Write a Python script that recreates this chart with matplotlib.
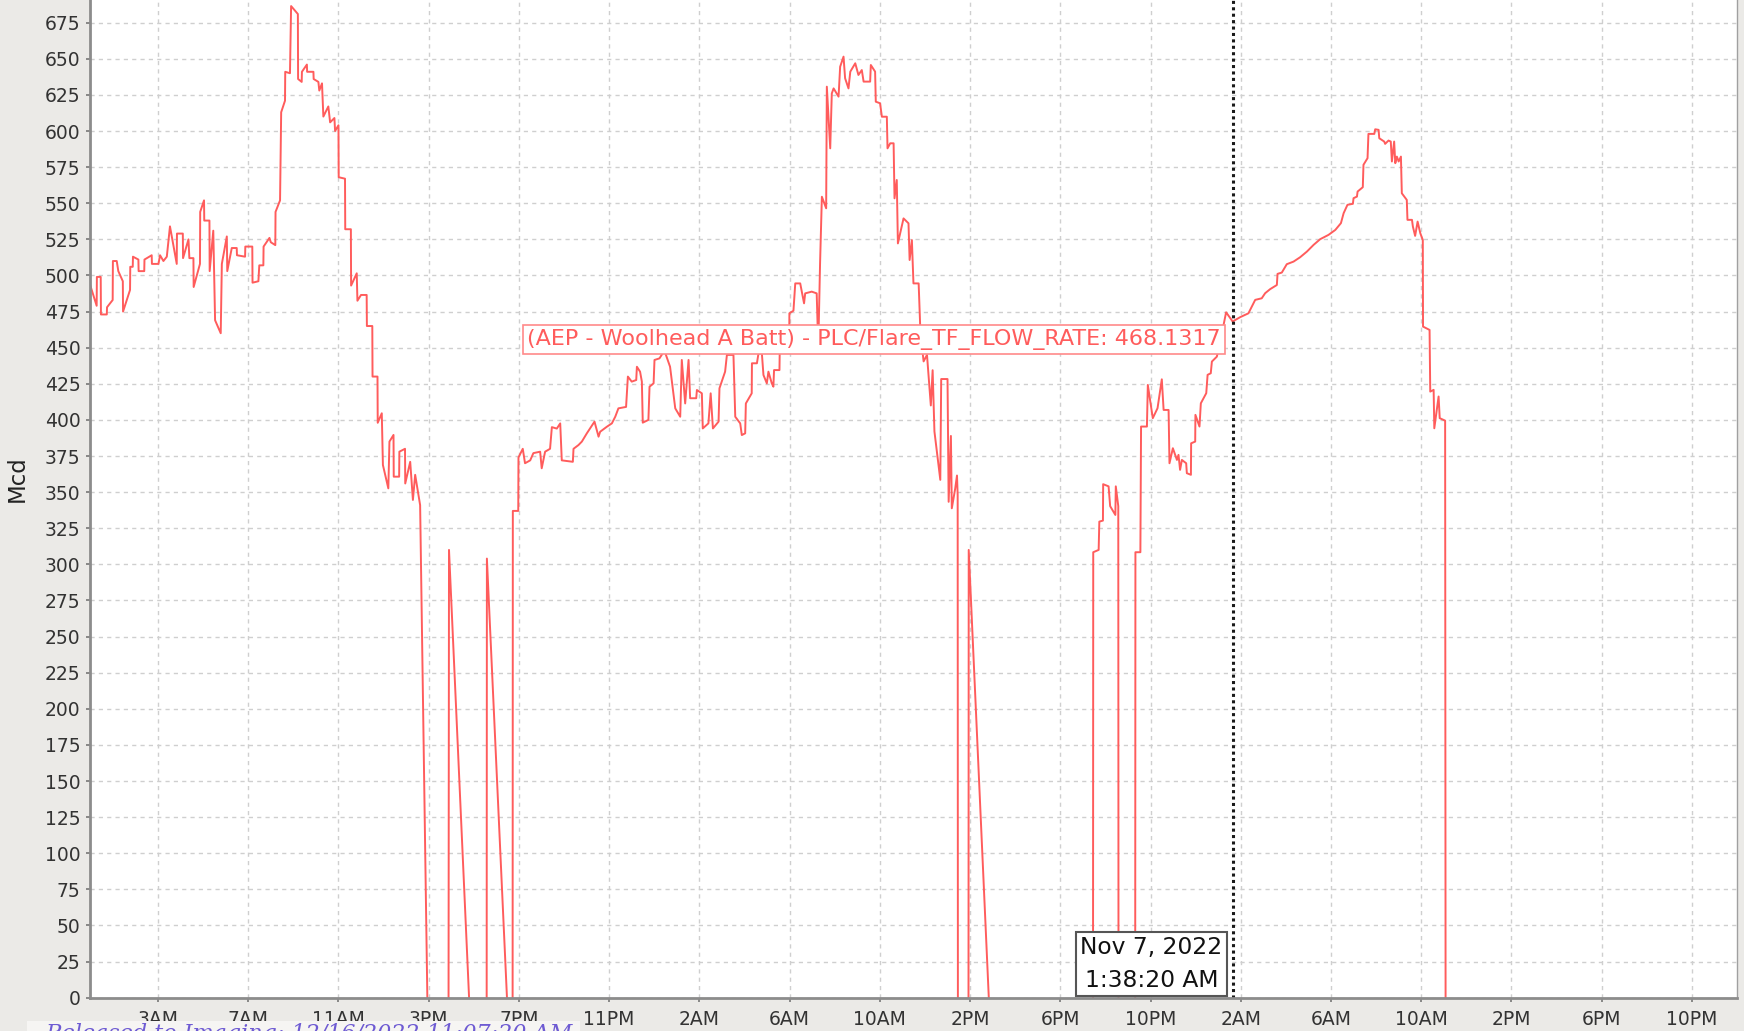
import matplotlib
matplotlib.use("Agg")
import matplotlib.pyplot as plt
from matplotlib.patches import Rectangle

NA = float("nan")  # gap: the flow sat at zero under the axis line

# elapsed hours since Nov 5, 2022 00:00 (DST ends Nov 6 -> 73 h span)
hours = [
    0.00, 0.28, 0.29, 0.46, 0.47, 0.73, 0.74, 0.99, 1.00, 1.17, 1.24, 1.44, 1.45, 1.76, 1.77, 1.88,
    1.89, 2.13, 2.14, 2.39, 2.40, 2.72, 2.73, 3.02, 3.09, 3.24, 3.39, 3.53, 3.83, 3.84, 4.10, 4.11,
    4.35, 4.39, 4.57, 4.58, 4.86, 4.87, 5.04, 5.05, 5.28, 5.29, 5.45, 5.53, 5.78, 5.83, 6.05, 6.07,
    6.27, 6.49, 6.50, 6.86, 6.87, 7.18, 7.19, 7.45, 7.49, 7.67, 7.68, 7.94, 8.00, 8.20, 8.21, 8.41,
    8.46, 8.63, 8.64, 8.85, 8.90, 9.20, 9.21, 9.37, 9.38, 9.60, 9.61, 9.89, 9.90, 10.11, 10.15, 10.27,
    10.33, 10.55, 10.63, 10.82, 10.85, 11.00, 11.01, 11.29, 11.30, 11.55, 11.56, 11.81, 11.84, 12.00,
    12.25, 12.26, 12.50, 12.51, 12.73, 12.74, 12.92, 12.97, 13.21, 13.26, 13.44, 13.45, 13.69, 13.70,
    13.95, 13.96, 14.18, 14.30, 14.40, 14.62, 14.94, 15.40, 15.88, 15.90, 16.79, 17.20, 17.57, 17.58,
    18.47, 18.60, 18.72,
    18.73, 18.97, 18.98, 19.17, 19.27, 19.50, 19.64, 19.94, 20.01, 20.16, 20.38, 20.46, 20.68, 20.83,
    20.90, 21.39, 21.42, 21.64, 21.79, 22.01, 22.35, 22.53, 22.60, 22.90, 23.12, 23.27, 23.41, 23.75,
    23.83, 24.00, 24.20, 24.23, 24.37, 24.45, 24.49, 24.74, 24.79, 24.97, 25.01, 25.23, 25.45, 25.70,
    25.93, 26.15, 26.22, 26.37, 26.52, 26.59, 26.86, 26.89, 27.11, 27.15, 27.40, 27.50, 27.60, 27.85,
    27.89, 28.14, 28.22, 28.51, 28.59, 28.81, 28.88, 29.03, 29.06, 29.32, 29.33, 29.55, 29.62, 29.77,
    29.84, 29.99, 30.06, 30.21, 30.28, 30.31, 30.55, 30.56, 30.98, 30.99, 31.17, 31.25, 31.47, 31.64,
    31.69, 31.98, 32.20, 32.27, 32.35, 32.43, 32.62, 32.65, 32.80, 32.87, 32.95, 33.17, 33.24, 33.39,
    33.46, 33.61, 33.69, 33.91, 34.05, 34.20, 34.28, 34.57, 34.60, 34.79, 34.82, 35.01, 35.09, 35.31,
    35.34, 35.46, 35.61, 35.65, 35.75, 35.80, 36.05, 36.27, 36.32, 36.42, 36.49, 36.72, 36.80, 36.94,
    37.09, 37.26, 37.34, 37.42, 37.68, 37.72, 38.00, 38.05, 38.15, 38.19, 38.34, 38.42, 38.45, 38.46,
    38.70, 38.93, 38.94, 39.83, 42.00, 44.45, 44.46, 44.70, 44.73, 44.89, 44.90, 45.14, 45.21, 45.44,
    45.46, 45.57, 45.58, 46.00, 46.32, 46.33, 46.55, 46.58, 46.84, 46.88, 47.10, 47.31, 47.50, 47.58,
    47.80, 47.84, 47.99,
    48.17, 48.24, 48.31, 48.39, 48.58, 48.61, 48.79, 48.80, 48.98, 48.99, 49.17, 49.23, 49.47, 49.53,
    49.67, 49.72, 49.94, 50.10, 50.35, 50.64, 50.97, 51.34, 51.64, 51.93, 52.08, 52.30, 52.60, 52.63,
    52.82, 53.04, 53.34, 53.63, 53.93, 54.23, 54.52, 54.89, 55.19, 55.44, 55.56, 55.73, 55.97, 56.00,
    56.15, 56.18, 56.41, 56.44, 56.62, 56.66, 56.92, 56.96, 57.11, 57.14, 57.36, 57.40, 57.55, 57.65,
    57.70, 57.80, 57.85, 57.92, 58.00, 58.10, 58.14, 58.36, 58.39, 58.59, 58.63, 58.73, 58.84, 58.96,
    59.07, 59.08, 59.37, 59.40, 59.55, 59.58, 59.77, 59.82, 59.92, 60.06, 60.08,
]
mcd = [
    493, 479, 499, 499, 473, 473, 478, 483, 510, 510, 503, 496, 475, 490, 506, 506,
    513, 511, 503, 503, 511, 514, 508, 508, 514, 510, 513, 534, 508, 529, 529, 512,
    525, 512, 512, 492, 508, 544, 552, 538, 538, 503, 531, 469, 460, 508, 527, 503,
    519, 519, 514, 513, 520, 520, 495, 496, 507, 507, 520, 526, 523, 521, 544, 552,
    613, 621, 641, 640, 686.5, 681, 636, 634, 641, 646, 641, 641, 636, 634, 628, 633,
    610, 617, 606, 609, 600, 604, 568, 567, 532, 532, 493, 501.5, 482.5, 486.5,
    486.5, 465, 465, 430, 430, 398, 404.6, 368.8, 352.6, 385, 389.6, 360.7, 360.7, 378,
    380, 356, 371, 344.6, 362, 341, 0, NA, 0, 310, 0, NA, 0, 304,
    0, NA, 0,
    337, 337, 374, 380, 370, 372, 377, 378, 366.5, 378, 380, 395, 394, 397.6,
    372, 371, 380, 382.6, 385, 390.7, 398.8, 388.4, 391.8, 395.3, 397.6, 402.2, 408, 409,
    430, 426.5, 427.6, 436.8, 433.4, 426.5, 398.1, 400, 423, 425.3, 441.5, 442.6, 448, 436.8,
    408, 402.2, 441.5, 411.4, 441.5, 415, 415, 420.7, 418.4, 394.1, 397.6, 418.4, 394.1, 398.8,
    421.9, 433.4, 445, 445, 402.2, 397.6, 389.5, 390.7, 411.4, 418.4, 439.2, 439.2, 446, 446,
    431.1, 425.3, 433.4, 425.3, 423, 434.5, 434.5, 446, 450, 473.8, 475.6, 494.5, 494.5, 480.7,
    487.6, 488.8, 487.6, 450, 508.4, 554.5, 546.5, 630.7, 588, 626, 629.5, 623.8, 644.5, 651.5,
    636.5, 629.5, 641.1, 646.9, 638.8, 642.2, 634.2, 634.2, 645.7, 641.1, 620.3, 619.2, 609.9, 609.9,
    588, 591.5, 591.5, 553.4, 566.1, 522.2, 539.5, 536.1, 510.7, 524.5, 494.5, 494.5, 460, 440.5,
    445, 410, 434.4, 392, 358.5, 428.3, 428.3, 343.3, 388.9, 338.8, 352.4, 361.5, 348, 0,
    NA, 0, 310, 0, NA, 0, 308.4, 310, 329.6, 330.3, 355.5, 354, 340.3, 334.2,
    354, 340.3, 0, NA, 0, 308.4, 308.4, 395.4, 395.4, 424.2, 401.2, 408.1, 428.1, 406.9,
    406.9, 370, 380.4,
    372.3, 375.8, 365.4, 372.3, 370, 363.1, 362, 383.8, 385, 403.5, 395.4, 411.5, 418.5, 431.2,
    432.3, 440.4, 443.8, 455, 474.5, 468.1317, 471.1, 473.8, 483.1, 484.2, 487.7, 490.5, 493.4, 501.1,
    502, 507.8, 509.6, 512.6, 516.5, 521.2, 525.1, 528.1, 531.5, 536.2, 543.1, 548.9, 549.6, 553.5,
    554.6, 558.1, 561.1, 576.6, 581.2, 598, 598, 601.2, 600.8, 595, 592.7, 591.1, 593.4, 592.7,
    578.9, 592.7, 577.7, 582.3, 578.9, 582.3, 556.9, 552.3, 538.5, 538.5, 533.9, 527.4, 537.3, 529.2,
    524.6, 464.6, 462.3, 419.6, 420.8, 394.2, 416.2, 401.2, 400.5, 399.5, 0,
]

tick_hours = [3, 7, 11, 15, 19, 23, 27, 31, 35, 39, 43, 47, 51, 55, 59, 63, 67, 71]
tick_labels = ["3AM", "7AM", "11AM", "3PM", "7PM", "11PM", "2AM", "6AM", "10AM",
               "2PM", "6PM", "10PM", "2AM", "6AM", "10AM", "2PM", "6PM", "10PM"]
y_ticks = list(range(0, 676, 25))

cursor_hour = 50.639  # Nov 7, 2022 1:38:20 AM
cursor_value = 468.1317
series_name = "(AEP - Woolhead A Batt) - PLC/Flare_TF_FLOW_RATE"
cursor_date = "Nov 7, 2022\n1:38:20 AM"
released = "Released to Imaging: 12/16/2022 11:07:20 AM"

line_color = "#ff5c5c"
text_color = "#333333"

fig = plt.figure(figsize=(17.44, 10.31), dpi=100, facecolor="#ebeae7")
ax = fig.add_axes([0.0518, 0.0323, 0.9442, 0.9677])
ax.set_facecolor("white")

ax.plot(hours, mcd, color=line_color, lw=1.4, zorder=2)
ax.axvline(cursor_hour, color="#1a1a1a", lw=2.2, linestyle=(0, (1, 1.1)), zorder=3)

ax.set_xlim(0, 73)
ax.set_ylim(0, 690.7)
ax.set_xticks(tick_hours, tick_labels)
ax.set_yticks(y_ticks)
ax.tick_params(axis="both", colors="#777777", labelcolor=text_color, labelsize=13.5,
               length=3, width=1.2, direction="out", pad=4)
ax.tick_params(axis="x", pad=6)
ax.grid(True, color="#cfcfcf", lw=1.0, linestyle=(0, (3, 3)))
ax.set_axisbelow(True)

for side in ("left", "bottom"):
    ax.spines[side].set_color("#8c8c8c")
    ax.spines[side].set_linewidth(2.0)
    ax.spines[side].set_zorder(4)
ax.spines["top"].set_visible(False)
ax.spines["right"].set_color("#a0a0a0")
ax.spines["right"].set_linewidth(1.0)

fig.text(0.0097, 0.536, "Mcd", rotation=90, fontsize=16.5, color="#222222",
         ha="center", va="center")

ax.annotate(f"{series_name}: {cursor_value}", xy=(cursor_hour, 455.7),
            xytext=(-12, 0), textcoords="offset pixels", ha="right", va="center",
            fontsize=16, color=line_color, zorder=5,
            bbox=dict(boxstyle="square,pad=0.18", fc="white", ec="#ff8a8a", lw=1.2))

ax.annotate(cursor_date, xy=(cursor_hour, 0), xytext=(-81, 6),
            textcoords="offset pixels", ha="center", va="bottom",
            fontsize=16.8, color="#111111", linespacing=1.55, zorder=5,
            bbox=dict(boxstyle="square,pad=0.18", fc="white", ec="#555555", lw=1.5))

# stamp strip overlapping the bottom of the tick labels
fig.patches.append(Rectangle((27 / 1744, 0), 553 / 1744, 10 / 1031,
                             transform=fig.transFigure, fc="#f6f5f3", ec="none",
                             zorder=5))
fig.text(45 / 1744, -9 / 1031, released, fontsize=16, family="DejaVu Serif",
         style="italic", color="#6e5bd3", ha="left", va="baseline", zorder=6)

fig.savefig("out.png", dpi=100, facecolor=fig.get_facecolor())
